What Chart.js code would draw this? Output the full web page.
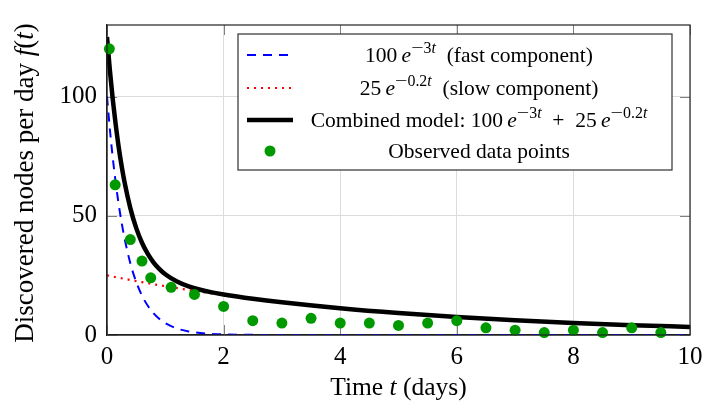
<!DOCTYPE html>
<html>
<head>
<meta charset="utf-8">
<script src="https://cdn.jsdelivr.net/npm/chart.js@4.4.1/dist/chart.umd.min.js"></script>
<style>
  body { margin: 0; background: #fff; }
  canvas { display: block; }
</style>
</head>
<body>
<canvas id="decayChart" width="716" height="402"></canvas>
<script>
// time grid for the model curves (days)
const tGrid = [0, 0.05, 0.1, 0.15, 0.2, 0.25, 0.3, 0.4, 0.5, 0.6, 0.7, 0.8, 0.9, 1,
    1.2, 1.4, 1.6, 1.8, 2, 2.5, 3, 4, 5, 6, 7, 8, 9, 10];
const fastVals = [100, 86.07, 74.08, 63.76, 54.88, 47.24, 40.66, 30.12, 22.31, 16.53, 12.25, 9.07, 6.72, 4.98,
    2.73, 1.5, 0.82, 0.45, 0.25, 0.06, 0.01, 0, 0, 0, 0, 0, 0, 0];
const slowVals = [25, 24.75, 24.5, 24.26, 24.02, 23.78, 23.54, 23.08, 22.62, 22.17, 21.74, 21.3, 20.88, 20.47,
    19.67, 18.89, 18.15, 17.44, 16.76, 15.16, 13.72, 11.23, 9.2, 7.53, 6.16, 5.05, 4.13, 3.38];
const combinedVals = [125, 110.82, 98.58, 88.02, 78.9, 71.02, 64.2, 53.2, 44.93, 38.7, 33.99, 30.37, 27.6, 25.45,
    22.4, 20.39, 18.97, 17.89, 17.01, 15.22, 13.73, 11.23, 9.2, 7.53, 6.16, 5.05, 4.13, 3.38];

// observed points
const obsT = [0.04, 0.14, 0.4, 0.6, 0.75, 1.1, 1.5, 2, 2.5, 3, 3.5, 4, 4.5, 5, 5.5, 6, 6.5, 7, 7.5, 8, 8.5, 9, 9.5];
const obsVals = [120, 63, 40, 31, 24, 20, 17, 12, 6, 5, 7, 5, 5, 4, 5, 6, 3, 2, 1, 2, 1, 3, 1];

const xTicks = [0, 2, 4, 6, 8, 10];
const yTicks = [0, 50, 100];

// legend labels: [text, italic, superscript]
const legendFast = [['100\u2009', 0, 0], ['e', 1, 0], ['\u2212', 0, 1], ['3', 0, 1], ['t', 1, 1], ['  (fast component)', 0, 0]];
const legendSlow = [['25\u2009', 0, 0], ['e', 1, 0], ['\u2212', 0, 1], ['0.2', 0, 1], ['t', 1, 1], ['  (slow component)', 0, 0]];
const legendCombined = [['Combined model: 100\u2009', 0, 0], ['e', 1, 0], ['\u2212', 0, 1], ['3', 0, 1], ['t', 1, 1],
    ['\u2002+\u2002', 0, 0], ['25\u2009', 0, 0], ['e', 1, 0], ['\u2212', 0, 1], ['0.2', 0, 1], ['t', 1, 1]];
const legendObserved = [['Observed data points', 0, 0]];
const xTitle = [['Time ', 0, 0], ['t', 1, 0], [' (days)', 0, 0]];
const yTitle = [['Discovered nodes per day ', 0, 0], ['f', 1, 0], ['(', 0, 0], ['t', 1, 0], [')', 0, 0]];

const SERIF = '"Liberation Serif", "DejaVu Serif", serif';

function toPoints(xs, ys) {
    return xs.map((x, i) => ({ x: x, y: ys[i] }));
}

function segFont(s, size) {
    const fs = s[2] ? size * 0.74 : size;
    return (s[1] ? 'italic ' : '') + fs + 'px ' + SERIF;
}

// the minus sign in superscripts is wider in TeX, give it some room
function segExtra(s, size) {
    return s[2] && s[0] === '\u2212' ? size * 0.16 : 0;
}

function segWidth(ctx, s, size) {
    ctx.font = segFont(s, size);
    return ctx.measureText(s[0]).width + segExtra(s, size);
}

function drawRich(ctx, segs, cx, cy, size) {
    let total = 0;
    segs.forEach(s => { total += segWidth(ctx, s, size); });
    let x = cx - total / 2;
    ctx.textBaseline = 'alphabetic';
    ctx.textAlign = 'left';
    const base = cy + size * 0.33;
    segs.forEach(s => {
        const w = segWidth(ctx, s, size);
        ctx.font = segFont(s, size);
        if (segExtra(s, size)) {
            // stretch the minus to fill its box
            ctx.save();
            ctx.translate(x, base - size * 0.42);
            ctx.scale(w / ctx.measureText(s[0]).width, 1);
            ctx.fillText(s[0], 0, 0);
            ctx.restore();
        } else {
            ctx.fillText(s[0], x, s[2] ? base - size * 0.42 : base);
        }
        x += w;
    });
}

const frameAndTicks = {
    id: 'frameAndTicks',
    beforeDatasetsDraw(chart) {
        const ctx = chart.ctx;
        const a = chart.chartArea;
        const xs = chart.scales.x, ys = chart.scales.y;
        ctx.save();
        ctx.strokeStyle = '#808080';
        ctx.lineWidth = 1;
        ctx.beginPath();
        xTicks.forEach(v => {
            const px = Math.round(xs.getPixelForValue(v)) + 0.5;
            ctx.moveTo(px, a.bottom); ctx.lineTo(px, a.bottom - 10);
            ctx.moveTo(px, a.top); ctx.lineTo(px, a.top + 10);
        });
        yTicks.forEach(v => {
            const py = Math.round(ys.getPixelForValue(v)) + 0.5;
            ctx.moveTo(a.left, py); ctx.lineTo(a.left + 10, py);
            ctx.moveTo(a.right, py); ctx.lineTo(a.right - 10, py);
        });
        ctx.stroke();
        ctx.restore();
    },
    afterDraw(chart) {
        const ctx = chart.ctx;
        const a = chart.chartArea;
        ctx.save();
        ctx.strokeStyle = '#202020';
        ctx.lineWidth = 1.2;
        ctx.strokeRect(a.left, a.top, a.right - a.left, a.bottom - a.top);

        // legend box
        const lx = 238, ly = 34, lw = 434, lh = 136;
        ctx.fillStyle = '#fff';
        ctx.fillRect(lx, ly, lw, lh);
        ctx.strokeStyle = '#303030';
        ctx.lineWidth = 1.2;
        ctx.strokeRect(lx, ly, lw, lh);

        const rows = [55, 88, 120, 151];
        const labels = [legendFast, legendSlow, legendCombined, legendObserved];
        const ds = chart.data.datasets;
        const order = [1, 2, 3, 0];
        rows.forEach((ry, i) => {
            const d = ds[order[i]];
            ctx.save();
            if (d.showLine === false) {
                ctx.fillStyle = d.backgroundColor;
                ctx.beginPath();
                ctx.arc(270, ry, d.pointRadius, 0, Math.PI * 2);
                ctx.fill();
            } else {
                ctx.strokeStyle = d.borderColor;
                ctx.lineWidth = d.borderWidth;
                ctx.setLineDash(d.borderDash || []);
                ctx.beginPath();
                ctx.moveTo(247, ry);
                ctx.lineTo(293, ry);
                ctx.stroke();
            }
            ctx.restore();
            ctx.fillStyle = '#000';
            drawRich(ctx, labels[i], 479, ry, 21.5);
        });

        // axis titles
        ctx.fillStyle = '#000';
        drawRich(ctx, xTitle, (a.left + a.right) / 2, 387, 25.5);
        ctx.translate(24, 183);
        ctx.rotate(-Math.PI / 2);
        drawRich(ctx, yTitle, 0, 0, 27);
        ctx.restore();
    }
};

const ctx = document.getElementById('decayChart').getContext('2d');
new Chart(ctx, {
    type: 'line',
    data: {
        datasets: [
            {
                label: 'Observed data points',
                data: toPoints(obsT, obsVals),
                showLine: false,
                pointRadius: 5.5,
                pointBackgroundColor: '#009900',
                backgroundColor: '#009900',
                pointBorderWidth: 0,
                clip: false,
                order: 0
            },
            {
                label: 'fast',
                data: toPoints(tGrid, fastVals),
                borderColor: '#0000ff',
                borderWidth: 2,
                borderDash: [9, 7],
                pointRadius: 0,
                cubicInterpolationMode: 'monotone',
                order: 3
            },
            {
                label: 'slow',
                data: toPoints(tGrid, slowVals),
                borderColor: '#ff0000',
                borderWidth: 2.2,
                borderDash: [2, 5],
                pointRadius: 0,
                cubicInterpolationMode: 'monotone',
                order: 2
            },
            {
                label: 'combined',
                data: toPoints(tGrid, combinedVals),
                borderColor: '#000000',
                borderWidth: 4.5,
                pointRadius: 0,
                cubicInterpolationMode: 'monotone',
                order: 1
            }
        ]
    },
    options: {
        responsive: false,
        animation: false,
        layout: { padding: { top: 24, right: 26, left: 0, bottom: 0 } },
        plugins: {
            legend: { display: false },
            tooltip: { enabled: false }
        },
        scales: {
            x: {
                type: 'linear',
                min: 0,
                max: 10,
                afterBuildTicks: s => { s.ticks = xTicks.map(v => ({ value: v })); },
                afterFit: s => { s.height = 67; },
                grid: { color: '#dcdcdc', drawTicks: false },
                border: { color: '#202020', width: 1.2 },
                ticks: { color: '#000', padding: 7, font: { family: SERIF, size: 25 } }
            },
            y: {
                min: 0,
                max: 130,
                afterBuildTicks: s => { s.ticks = yTicks.map(v => ({ value: v })); },
                afterFit: s => { s.width = 107; },
                grid: { color: '#dcdcdc', drawTicks: false },
                border: { color: '#202020', width: 1.2 },
                ticks: { color: '#000', padding: 10, font: { family: SERIF, size: 25 } }
            }
        }
    },
    plugins: [frameAndTicks]
});
</script>
</body>
</html>
